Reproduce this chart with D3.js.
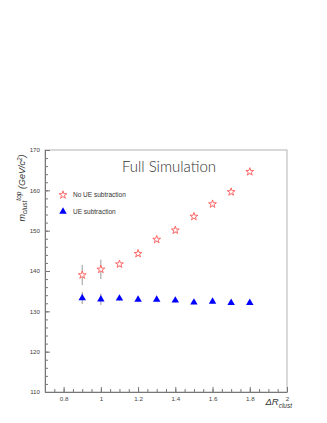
<!DOCTYPE html>
<html>
<head>
<meta charset="utf-8">
<script src="https://cdn.jsdelivr.net/npm/d3@7"></script>
<style>
  body { margin:0; background:#fff; }
  svg { display:block; font-family: "Liberation Sans", Arial, sans-serif; }
</style>
</head>
<body>
<div id="chart"></div>
<script>
// values
const deltaR = [0.9, 1.0, 1.1, 1.2, 1.3, 1.4, 1.5, 1.6, 1.7, 1.8];
const noUEMass = [139.0, 140.4, 141.7, 144.3, 147.8, 150.1, 153.5, 156.6, 159.6, 164.6];
const noUEErr = [2.5, 2.4, 0.6, 0.6, 0.6, 0.6, 0.6, 0.6, 0.6, 0.6];
const ueMass = [133.3, 133.0, 133.2, 132.9, 132.9, 132.7, 132.2, 132.4, 132.1, 132.1];
const ueErr = [1.5, 1.4, 0.5, 0.5, 0.5, 0.5, 0.5, 0.5, 0.5, 0.5];
const xTicks = [0.8, 1, 1.2, 1.4, 1.6, 1.8, 2];
const yTicks = [110, 120, 130, 140, 150, 160, 170];
const legendLabels = ["No UE subtraction", "UE subtraction"];

const width = 327, height = 423;
const margin = { top:150, right:40, bottom:31, left:45 };
const innerWidth = width - margin.left - margin.right;
const innerHeight = height - margin.top - margin.bottom;

const svg = d3.select("#chart").append("svg")
  .attr("width", width).attr("height", height);
const g = svg.append("g").attr("transform", `translate(${margin.left},${margin.top})`);

const x = d3.scaleLinear().domain([0.7, 2.0]).range([0, innerWidth]);
const y = d3.scaleLinear().domain([110, 170]).range([innerHeight, 0]);

// frame
g.append("rect")
  .attr("width", innerWidth).attr("height", innerHeight)
  .attr("fill", "none").attr("stroke", "#b4b4b4").attr("stroke-width", 1);

const fmt = d3.format("~g");

// minor ticks
g.append("g").attr("class", "minor")
  .call(d3.axisLeft(y).ticks(30).tickSize(-3).tickFormat(""));
g.append("g").attr("class", "minor")
  .attr("transform", `translate(0,${innerHeight})`)
  .call(d3.axisBottom(x).tickValues(d3.range(14, 41).map(d => d * 0.05)).tickSize(-3).tickFormat(""));
g.selectAll(".minor .domain").remove();
g.selectAll(".minor text").remove();

// major ticks
g.append("g").attr("class", "major")
  .call(d3.axisLeft(y).tickValues(yTicks).tickSize(-5).tickSizeOuter(0).tickPadding(5).tickFormat(fmt));
g.append("g").attr("class", "major")
  .attr("transform", `translate(0,${innerHeight})`)
  .call(d3.axisBottom(x).tickValues(xTicks).tickSize(-5).tickSizeOuter(0).tickPadding(5).tickFormat(fmt));

g.selectAll(".tick line").attr("stroke", "#777");
g.selectAll(".major .domain").attr("stroke", "#777");
g.selectAll(".major text").attr("fill", "#444").style("font-size", "6.2px");

// error bars
const errColor = "#9a9a9a";
g.selectAll(".err-noue").data(deltaR).enter().append("line")
  .attr("x1", d => x(d)).attr("x2", d => x(d))
  .attr("y1", (d, i) => y(noUEMass[i] - noUEErr[i]))
  .attr("y2", (d, i) => y(noUEMass[i] + noUEErr[i]))
  .attr("stroke", errColor).attr("stroke-width", 1);
g.selectAll(".err-ue").data(deltaR).enter().append("line")
  .attr("x1", d => x(d)).attr("x2", d => x(d))
  .attr("y1", (d, i) => y(ueMass[i] - ueErr[i]))
  .attr("y2", (d, i) => y(ueMass[i] + ueErr[i]))
  .attr("stroke", errColor).attr("stroke-width", 1);

const star = d3.symbol().type(d3.symbolStar).size(19);
const tri = d3.symbol().type(d3.symbolTriangle).size(24);

g.selectAll(".star").data(deltaR).enter().append("path")
  .attr("d", star)
  .attr("transform", (d, i) => `translate(${x(d)},${y(noUEMass[i])})`)
  .attr("fill", "#fff").attr("stroke", "#ff5a5a").attr("stroke-width", 0.9);

g.selectAll(".tri").data(deltaR).enter().append("path")
  .attr("d", tri)
  .attr("transform", (d, i) => `translate(${x(d)},${y(ueMass[i])})`)
  .attr("fill", "#0000ff");

// title
svg.append("text")
  .attr("x", 169).attr("y", 172)
  .attr("text-anchor", "middle")
  .style("font-family", "Lato, sans-serif").style("font-weight", 300)
  .style("font-size", "15px").attr("fill", "#333")
  .text("Full Simulation");

// legend
const legend = svg.append("g").attr("transform", "translate(63,195)");
legend.append("path").attr("d", star)
  .attr("fill", "#fff").attr("stroke", "#ff5a5a").attr("stroke-width", 0.9);
legend.append("path").attr("d", tri)
  .attr("transform", "translate(0,16.5)").attr("fill", "#0000ff");
legend.selectAll("text").data(legendLabels).enter().append("text")
  .attr("x", 10).attr("y", (d, i) => i * 16.5 + 2.3)
  .style("font-size", "6.5px").attr("fill", "#333")
  .text(d => d);

// y-axis title
const yt = svg.append("text")
  .attr("transform", "translate(25,188) rotate(-90)")
  .attr("text-anchor", "middle")
  .style("font-size", "9px").style("font-style", "italic").attr("fill", "#333");
yt.append("tspan").text("m");
yt.append("tspan").attr("dy", 2).style("font-size", "6.5px").text("clust");
yt.append("tspan").attr("dy", -6).style("font-size", "6.5px").text("top");
yt.append("tspan").attr("dy", 4).text(" (GeV/c");
yt.append("tspan").attr("dy", -3.5).style("font-size", "6.5px").text("2");
yt.append("tspan").attr("dy", 3.5).text(")");

// x-axis title
const xt = svg.append("text")
  .attr("x", 292).attr("y", 405)
  .attr("text-anchor", "end")
  .style("font-size", "9.5px").style("font-style", "italic").attr("fill", "#333");
xt.append("tspan").text("ΔR");
xt.append("tspan").attr("dy", 2.5).style("font-size", "6.5px").text("clust");
</script>
</body>
</html>
